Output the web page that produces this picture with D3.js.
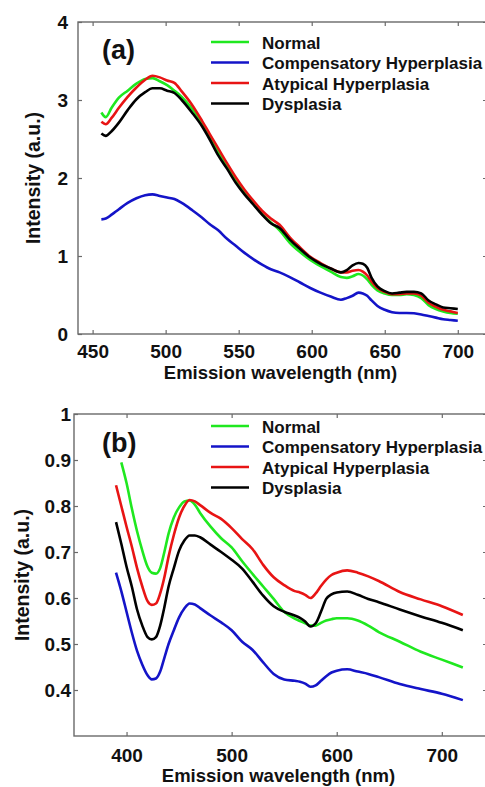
<!DOCTYPE html>
<html>
<head>
<meta charset="utf-8">
<script src="https://cdn.jsdelivr.net/npm/d3@7/dist/d3.min.js"></script>
<style>
  html, body { margin: 0; padding: 0; background: #fff; }
  svg { display: block; }
  text { font-family: "Liberation Sans", Arial, sans-serif; fill: #111; }
</style>
</head>
<body>
<svg id="fig" width="485" height="787"></svg>
<script>
// ---- Panel (a): emission spectra, 455-700 nm ----
const seriesNames = ["Normal", "Compensatory Hyperplasia", "Atypical Hyperplasia", "Dysplasia"];
const seriesColors = ["#1fe81f", "#1414c8", "#e81414", "#000000"];

const waveA = [456, 459, 463, 468, 474, 480, 486, 491, 496, 501, 506, 511, 518, 525, 530, 536, 542, 548, 554, 560,
  566, 572, 578, 585, 592, 599, 606, 613, 620, 624, 628, 632, 635, 638, 641, 645, 650, 655, 660, 665,
  670, 675, 680, 685, 690, 695, 700];
const normalA = [2.84, 2.78, 2.90, 3.03, 3.12, 3.21, 3.27, 3.28, 3.24, 3.19, 3.12, 3.04, 2.89, 2.70, 2.54, 2.34, 2.16, 1.97, 1.81, 1.67,
  1.54, 1.43, 1.33, 1.17, 1.05, 0.95, 0.87, 0.80, 0.73, 0.72, 0.74, 0.77, 0.75, 0.70, 0.63, 0.56, 0.52, 0.50, 0.50, 0.51,
  0.50, 0.46, 0.37, 0.32, 0.29, 0.27, 0.26];
const compensatoryA = [1.47, 1.48, 1.53, 1.60, 1.68, 1.74, 1.78, 1.79, 1.77, 1.75, 1.73, 1.68, 1.59, 1.49, 1.41, 1.33, 1.22, 1.13, 1.04, 0.96,
  0.89, 0.83, 0.79, 0.73, 0.66, 0.59, 0.53, 0.48, 0.44, 0.46, 0.49, 0.53, 0.52, 0.49, 0.43, 0.36, 0.31, 0.28, 0.27, 0.27,
  0.265, 0.25, 0.23, 0.21, 0.19, 0.18, 0.17];
const atypicalA = [2.72, 2.69, 2.77, 2.90, 3.04, 3.16, 3.26, 3.31, 3.29, 3.25, 3.22, 3.11, 2.94, 2.73, 2.57, 2.38, 2.19, 2.01, 1.85, 1.71,
  1.58, 1.48, 1.40, 1.24, 1.11, 0.99, 0.91, 0.84, 0.79, 0.79, 0.81, 0.82, 0.80, 0.75, 0.67, 0.59, 0.54, 0.51, 0.51, 0.52,
  0.52, 0.49, 0.40, 0.35, 0.31, 0.29, 0.27];
const dysplasiaA = [2.57, 2.54, 2.60, 2.71, 2.87, 3.01, 3.10, 3.15, 3.15, 3.12, 3.09, 3.00, 2.84, 2.66, 2.50, 2.29, 2.12, 1.94, 1.79, 1.66,
  1.53, 1.42, 1.36, 1.21, 1.09, 0.98, 0.90, 0.84, 0.79, 0.82, 0.88, 0.91, 0.90, 0.85, 0.72, 0.61, 0.55, 0.52, 0.53, 0.54,
  0.54, 0.52, 0.43, 0.38, 0.34, 0.33, 0.32];
const xTicksA = [450, 500, 550, 600, 650, 700];
const yTicksA = [0, 1, 2, 3, 4];

// ---- Panel (b): emission spectra, 390-720 nm ----
const waveB = [390, 395, 400, 405, 410, 415, 420, 424, 428, 432, 436, 440, 445, 450, 455, 460, 465, 470, 480, 490,
  500, 510, 520, 530, 540, 550, 560, 565, 570, 575, 580, 585, 590, 595, 600, 610, 620, 630, 640, 660,
  680, 700, 720];
const normalB = [null, 0.895, 0.850, 0.795, 0.745, 0.703, 0.668, 0.655, 0.653, 0.665, 0.700, 0.740, 0.775, 0.797, 0.810, 0.812, 0.803, 0.785, 0.755, 0.730,
  0.710, 0.680, 0.652, 0.625, 0.598, 0.570, 0.555, 0.550, 0.545, 0.540, 0.540, 0.546, 0.551, 0.554, 0.556, 0.556, 0.551, 0.540, 0.526, 0.505,
  0.483, 0.466, 0.449];
const compensatoryB = [0.655, 0.615, 0.570, 0.525, 0.485, 0.455, 0.432, 0.423, 0.425, 0.440, 0.470, 0.500, 0.530, 0.558, 0.577, 0.588, 0.586, 0.578, 0.562, 0.547,
  0.530, 0.505, 0.487, 0.460, 0.435, 0.423, 0.420, 0.418, 0.414, 0.407, 0.410, 0.420, 0.430, 0.438, 0.442, 0.445, 0.440, 0.435, 0.428, 0.413,
  0.402, 0.392, 0.378];
const atypicalB = [0.845, 0.800, 0.755, 0.712, 0.665, 0.625, 0.593, 0.585, 0.588, 0.610, 0.645, 0.690, 0.737, 0.775, 0.800, 0.813, 0.810, 0.802, 0.785, 0.772,
  0.752, 0.728, 0.706, 0.672, 0.645, 0.628, 0.615, 0.612, 0.607, 0.600, 0.610, 0.626, 0.640, 0.650, 0.655, 0.660, 0.655, 0.647, 0.637, 0.613,
  0.597, 0.582, 0.563];
const dysplasiaB = [0.765, 0.718, 0.668, 0.625, 0.575, 0.540, 0.515, 0.510, 0.515, 0.540, 0.580, 0.625, 0.665, 0.703, 0.725, 0.736, 0.736, 0.732, 0.716, 0.700,
  0.683, 0.664, 0.635, 0.605, 0.582, 0.570, 0.562, 0.557, 0.549, 0.538, 0.545, 0.570, 0.598, 0.608, 0.612, 0.614, 0.607, 0.598, 0.591, 0.575,
  0.560, 0.546, 0.530];
const xTicksB = [400, 500, 600, 700];
const yTicksB = [0.4, 0.5, 0.6, 0.7, 0.8, 0.9, 1];

const panels = [
  {
    tag: "(a)", wave: waveA, series: [normalA, compensatoryA, atypicalA, dysplasiaA],
    xDomain: [440, 720], yDomain: [0, 4], left: 78, right: 487, top: 22, bottom: 334,
    xTicks: xTicksA, yTicks: yTicksA, yFmt: d3.format("d"), yPad: 10, xPad: 10.5,
    yTitleX: 33, xTitleY: 379, tagPos: [102, 59], legendY: 43
  },
  {
    tag: "(b)", wave: waveB, series: [normalB, compensatoryB, atypicalB, dysplasiaB],
    xDomain: [350, 743], yDomain: [0.3, 1], left: 74, right: 487, top: 414, bottom: 736,
    xTicks: xTicksB, yTicks: yTicksB, yFmt: d => (d === 1 ? "1" : d3.format(".1f")(d)), yPad: 3, xPad: 12.5,
    yTitleX: 22, xTitleY: 782, tagPos: [102, 452], legendY: 427
  }
];

const svg = d3.select("#fig");
const axisGrey = "#6a6a6a";

panels.forEach(p => {
  const x = d3.scaleLinear().domain(p.xDomain).range([p.left, p.right]);
  const y = d3.scaleLinear().domain(p.yDomain).range([p.bottom, p.top]);
  const g = svg.append("g");

  // box frame
  g.append("rect")
    .attr("x", p.left).attr("y", p.top)
    .attr("width", p.right - p.left).attr("height", p.bottom - p.top)
    .attr("fill", "none").attr("stroke", axisGrey).attr("stroke-width", 1.4);

  const styleAxis = sel => {
    sel.select(".domain").remove();
    sel.selectAll(".tick line").attr("stroke", axisGrey).attr("stroke-width", 1.2);
    sel.selectAll(".tick text")
      .attr("fill", "#111")
      .style("font-size", "19px")
      .style("font-weight", "bold")
      .style("font-family", "'Liberation Sans', Arial, sans-serif");
  };

  g.append("g").attr("transform", `translate(0,${p.bottom})`)
    .call(d3.axisBottom(x).tickValues(p.xTicks).tickSize(-4).tickPadding(p.xPad).tickFormat(d3.format("d")))
    .call(styleAxis);
  g.append("g").attr("transform", `translate(0,${p.top})`)
    .call(d3.axisTop(x).tickValues(p.xTicks).tickSize(-4).tickFormat(""))
    .call(styleAxis);
  g.append("g").attr("transform", `translate(${p.left},0)`)
    .call(d3.axisLeft(y).tickValues(p.yTicks).tickSize(-4).tickPadding(p.yPad).tickFormat(p.yFmt))
    .call(styleAxis);
  g.append("g").attr("transform", `translate(${p.right},0)`)
    .call(d3.axisRight(y).tickValues(p.yTicks).tickSize(-4).tickFormat(""))
    .call(styleAxis);

  // spectra
  const clipId = "clip" + p.tag.replace(/\W/g, "");
  svg.append("clipPath").attr("id", clipId).append("rect")
    .attr("x", p.left).attr("y", p.top).attr("width", p.right - p.left).attr("height", p.bottom - p.top);

  const line = d3.line()
    .defined(d => d[1] != null)
    .x(d => x(d[0])).y(d => y(d[1]))
    .curve(d3.curveMonotoneX);

  p.series.forEach((vals, i) => {
    g.append("path")
      .datum(p.wave.map((w, k) => [w, vals[k]]))
      .attr("clip-path", `url(#${clipId})`)
      .attr("fill", "none")
      .attr("stroke", seriesColors[i])
      .attr("stroke-width", 2.6)
      .attr("stroke-linejoin", "round")
      .attr("d", line);
  });

  // panel tag
  g.append("text").attr("x", p.tagPos[0]).attr("y", p.tagPos[1])
    .style("font-size", "27px").style("font-weight", "bold").text(p.tag);

  // legend
  const leg = g.append("g");
  seriesNames.forEach((name, i) => {
    const ly = p.legendY + i * 20.5;
    leg.append("line")
      .attr("x1", 211).attr("x2", 249).attr("y1", ly - 1).attr("y2", ly - 1)
      .attr("stroke", seriesColors[i]).attr("stroke-width", 2.6);
    leg.append("text")
      .attr("x", 262).attr("y", ly).attr("dy", "0.35em")
      .style("font-size", "17px").style("font-weight", "bold").text(name);
  });

  // axis titles
  g.append("text")
    .attr("x", (p.left + p.right) / 2 - 2).attr("y", p.xTitleY)
    .attr("text-anchor", "middle")
    .style("font-size", "18.5px").style("font-weight", "bold")
    .text("Emission wavelength (nm)");
  g.append("text")
    .attr("transform", `translate(${p.yTitleX},${(p.top + p.bottom) / 2}) rotate(-90)`)
    .attr("text-anchor", "middle").attr("dy", "0.35em")
    .style("font-size", "19.5px").style("font-weight", "bold")
    .text("Intensity (a.u.)");
});
</script>
</body>
</html>
